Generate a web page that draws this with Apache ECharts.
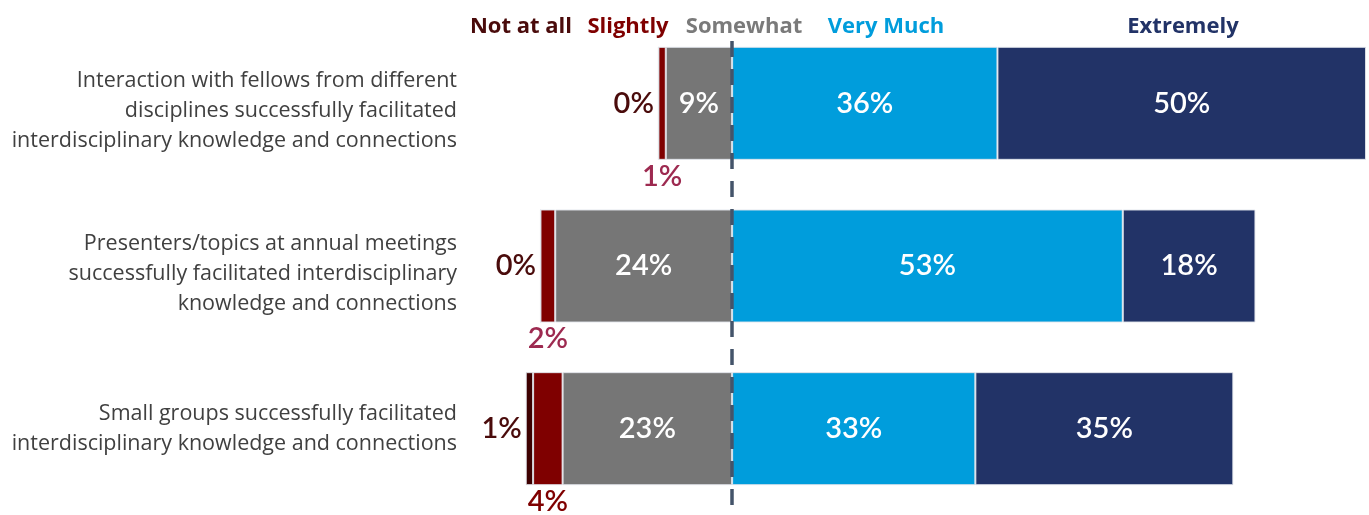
<!DOCTYPE html>
<html>
<head>
<meta charset="utf-8">
<title>Interdisciplinary knowledge and connections</title>
<script src="https://cdn.jsdelivr.net/npm/echarts@6/dist/echarts.min.js"></script>
<style>
  html, body { margin: 0; padding: 0; background: #ffffff; }
  #chart { width: 1369px; height: 515px; }
</style>
</head>
<body>
<div id="chart"></div>
<script>
// Survey statements (one bar each, top to bottom)
const statements = [
  'Interaction with fellows from different\ndisciplines successfully facilitated\ninterdisciplinary knowledge and connections',
  'Presenters/topics at annual meetings\nsuccessfully facilitated interdisciplinary\nknowledge and connections',
  'Small groups successfully facilitated\ninterdisciplinary knowledge and connections'
];

// Response scale
const responseLevels = ['Not at all', 'Slightly', 'Somewhat', 'Very Much', 'Extremely'];

// Share of respondents (%) per statement
const notAtAll  = [0, 0, 1];
const slightly  = [1, 2, 4];
const somewhat  = [9, 24, 23];
const veryMuch  = [36, 53, 33];
const extremely = [50, 18, 35];

// Colours
const barColors = ['#3d0000', '#7f0000', '#767676', '#009ddc', '#223367'];
const headerColors = ['#4a0b0b', '#7f0000', '#7a7a7a', '#009ddc', '#223367'];
const slightlyLabelColors = ['#9d2a50', '#9d2a50', '#7f0000'];

// Header label centres (px) along the top
const headerX = [521, 628, 744, 886, 1183];

const NUM_FONT = 'Lato, "Open Sans", sans-serif';
const NUM_SIZE = 29;
const NUM_WEIGHT = 600;
const LEFT = 511, RIGHT = 3, X_MIN = -30, X_MAX = 86;

const pct = p => Math.abs(p.value) + '%';

const insideLabel = {
  show: true,
  position: 'inside',
  color: '#ffffff',
  fontFamily: NUM_FONT,
  fontSize: NUM_SIZE,
  fontWeight: NUM_WEIGHT,
  formatter: pct
};

const barBase = {
  type: 'bar',
  stack: 'resp',
  barWidth: 113,
  xAxisIndex: 0,
  yAxisIndex: 0
};

const itemStyle = c => ({ color: c, borderColor: 'rgba(225,228,235,0.9)', borderWidth: 1 });

const chart = echarts.init(document.getElementById('chart'), null, { renderer: 'canvas' });

chart.setOption({
  animation: false,
  backgroundColor: '#ffffff',
  grid: [
    { left: LEFT, right: RIGHT, top: 22, bottom: 5 },
    { left: LEFT, right: RIGHT, top: 40, bottom: 10 }
  ],
  xAxis: [
    { type: 'value', gridIndex: 0, min: X_MIN, max: X_MAX, show: false },
    { type: 'value', gridIndex: 1, min: X_MIN, max: X_MAX, show: false }
  ],
  yAxis: [
    {
      type: 'category',
      gridIndex: 0,
      inverse: true,
      data: statements,
      axisLine: { show: false },
      axisTick: { show: false },
      splitLine: { show: false },
      axisLabel: {
        margin: 54,
        align: 'right',
        color: '#404040',
        fontFamily: '"Open Sans", "Noto Sans", sans-serif',
        fontSize: 21.5,
        lineHeight: 30,
        // three-line statements sit a little below the bar centre
        formatter: s => (s.split('\n').length > 2 ? '{gap| }\n' + s : s),
        rich: {
          gap: { fontSize: 2, lineHeight: 16 }
        }
      }
    },
    { type: 'value', gridIndex: 1, min: 0, max: 1, show: false }
  ],
  graphic: responseLevels.map((name, i) => ({
    type: 'text',
    x: headerX[i],
    y: 27,
    style: {
      text: name,
      fill: headerColors[i],
      font: 'bold 22px "Open Sans", "Noto Sans", sans-serif',
      textAlign: 'center',
      textVerticalAlign: 'middle'
    }
  })),
  series: [
    {
      ...barBase,
      name: responseLevels[2],
      data: somewhat.map(v => -v),
      itemStyle: itemStyle(barColors[2]),
      label: insideLabel
    },
    {
      ...barBase,
      name: responseLevels[1],
      data: slightly.map((v, i) => ({
        value: -v,
        label: { color: slightlyLabelColors[i] }
      })),
      itemStyle: itemStyle(barColors[1]),
      label: {
        show: true,
        position: 'bottom',
        distance: 2,
        fontFamily: NUM_FONT,
        fontSize: NUM_SIZE,
        fontWeight: NUM_WEIGHT,
        formatter: pct
      }
    },
    {
      ...barBase,
      name: responseLevels[0],
      data: notAtAll.map(v => -v),
      itemStyle: itemStyle(barColors[0]),
      label: {
        show: true,
        position: 'left',
        distance: 4,
        color: '#4a0b0b',
        fontFamily: NUM_FONT,
        fontSize: NUM_SIZE,
        fontWeight: NUM_WEIGHT,
        formatter: pct
      }
    },
    {
      ...barBase,
      name: responseLevels[3],
      data: veryMuch,
      itemStyle: itemStyle(barColors[3]),
      label: insideLabel
    },
    {
      ...barBase,
      name: responseLevels[4],
      data: extremely,
      itemStyle: itemStyle(barColors[4]),
      label: insideLabel
    },
    {
      // dashed neutral divider at 0%
      type: 'line',
      xAxisIndex: 1,
      yAxisIndex: 1,
      data: [],
      z: 10,
      markLine: {
        silent: true,
        symbol: 'none',
        label: { show: false },
        lineStyle: { color: '#44546a', width: 3.5, type: [16, 12] },
        data: [{ xAxis: 0 }]
      }
    }
  ]
});
</script>
</body>
</html>
